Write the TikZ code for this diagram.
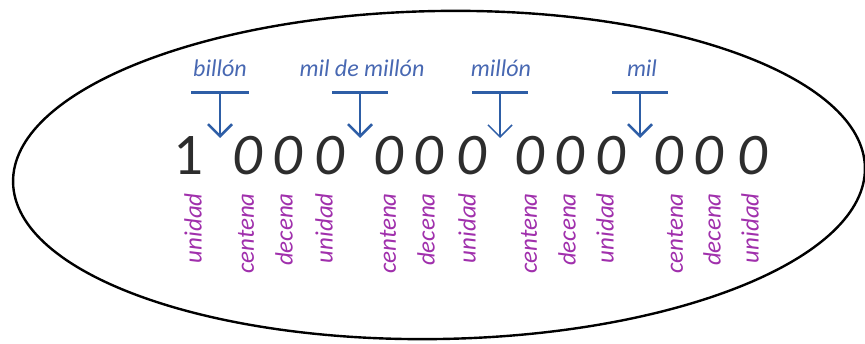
\documentclass[tikz,border=0pt]{standalone}
\usepackage{fontspec}
\setmainfont{Carlito}
\usetikzlibrary{arrows.meta}
\definecolor{lblblue}{RGB}{72,104,178}
\definecolor{tblue}{RGB}{46,94,166}
\definecolor{lblpurple}{RGB}{160,48,172}
\definecolor{digitc}{RGB}{45,45,45}
\begin{document}
\begin{tikzpicture}[x=1pt,y=1pt,
  digit/.style={font=\fontsize{59}{59}\selectfont\itshape, text=digitc, inner sep=0pt, anchor=base},
  place/.style={font=\fontsize{25}{25}\selectfont\itshape, text=lblpurple, inner sep=0pt, rotate=90, anchor=east},
  period/.style={font=\fontsize{24}{24}\selectfont\itshape, text=lblblue, inner sep=0pt, anchor=base},
  tbar/.style={draw=tblue, line width=3pt},
  tarrow/.style={draw=tblue, line width=2.5pt, -{Straight Barb[length=12pt,width=24pt,line width=2.5pt]}},
  tarrowthin/.style={draw=tblue, line width=1.5pt, -{Straight Barb[length=12pt,width=24pt,line width=1.5pt]}}
]
\useasboundingbox (0,0) rectangle (865,343);
\draw[line width=2.4pt, rotate around={1:(439,168)}] (439,168) ellipse [x radius=426, y radius=164];

% digits
\node[digit, font=\fontsize{59}{59}\selectfont\upshape] (d1) at (188,168) {1};
\node[digit] (d2) at (247,168) {0};
\node[digit] (d3) at (287,168) {0};
\node[digit] (d4) at (329,168) {0};
\node[digit] (d5) at (388,168) {0};
\node[digit] (d6) at (428,168) {0};
\node[digit] (d7) at (471,168) {0};
\node[digit] (d8) at (529,168) {0};
\node[digit] (d9) at (569,168) {0};
\node[digit] (d10) at (610,168) {0};
\node[digit] (d11) at (668,168) {0};
\node[digit] (d12) at (708,168) {0};
\node[digit] (d13) at (752,168) {0};

% place names
\node[place] (p1) at (193,150) {unidad};
\node[place] (p2) at (246,150) {centena};
\node[place] (p3) at (284,150) {decena};
\node[place] (p4) at (324,150) {unidad};
\node[place] (p5) at (388,150) {centena};
\node[place] (p6) at (426,150) {decena};
\node[place] (p7) at (467,150) {unidad};
\node[place] (p8) at (529,150) {centena};
\node[place] (p9) at (567,150) {decena};
\node[place] (p10) at (605,150) {unidad};
\node[place] (p11) at (675,150) {centena};
\node[place] (p12) at (712,150) {decena};
\node[place] (p13) at (750,150) {unidad};

% period names
\node[period] (billon) at (220,266) {billón};
\node[period] (milmillon) at (362,266) {mil de millón};
\node[period] (millon) at (501,266) {millón};
\node[period] (mil) at (642,266) {mil};

% T markers
\coordinate (bA) at (220,250); \coordinate (tA) at (220,205);
\coordinate (bB) at (360,250); \coordinate (tB) at (360,205);
\coordinate (bC) at (500,250); \coordinate (tC) at (500,205);
\coordinate (bD) at (640,250); \coordinate (tD) at (640,205);
\draw[tbar] ([xshift=-29pt]bA) -- ([xshift=29pt]bA);
\draw[tbar] ([xshift=-28pt]bB) -- ([xshift=28pt]bB);
\draw[tbar] ([xshift=-28pt]bC) -- ([xshift=28pt]bC);
\draw[tbar] ([xshift=-28pt]bD) -- ([xshift=28pt]bD);
\draw[tarrow] (bA) -- (tA);
\draw[tarrow] (bB) -- (tB);
\draw[tarrowthin] (bC) -- (tC);
\draw[tarrow] (bD) -- (tD);
\end{tikzpicture}
\end{document}
